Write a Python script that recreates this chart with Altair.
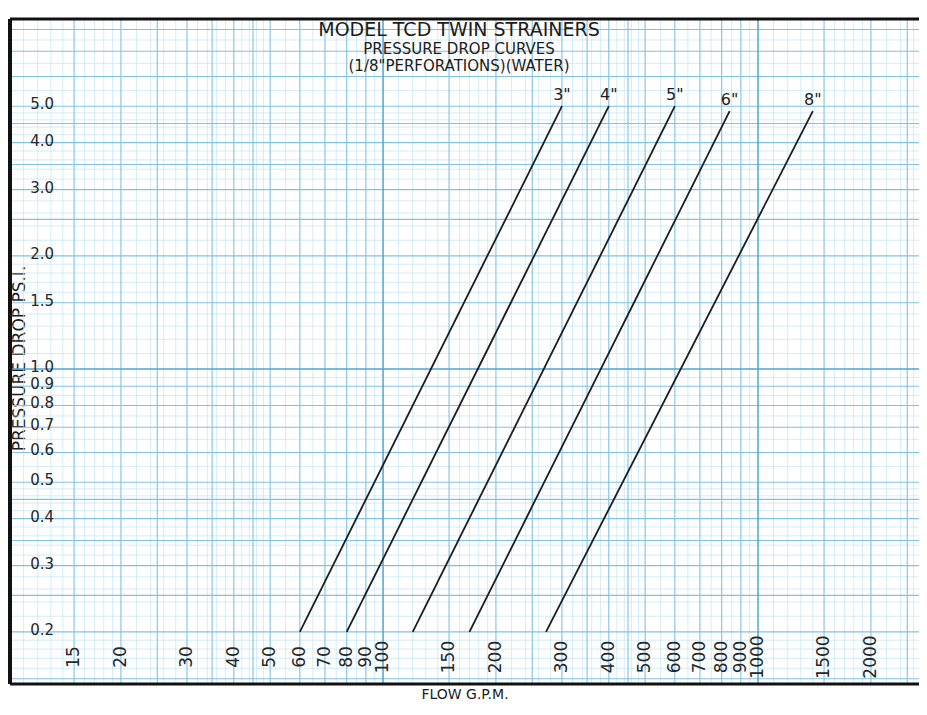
import altair as alt
import pandas as pd

# ---------------- data ----------------
sizes = ['3"', '4"', '5"', '6"', '8"']
flow_low = [60, 80, 120, 170, 272]        # GPM where each curve starts (at 0.2 psi)
flow_high = [300, 400, 600, 840, 1400]    # GPM where each curve ends
psi_low = [0.2, 0.2, 0.2, 0.2, 0.2]
psi_high = [5.0, 5.0, 5.0, 4.85, 4.85]

x_tick_values = [15, 20, 30, 40, 50, 60, 70, 80, 90, 100, 150, 200, 300, 400,
                 500, 600, 700, 800, 900, 1000, 1500, 2000]
y_tick_values = [5.0, 4.0, 3.0, 2.0, 1.5, 1.0, 0.9, 0.8, 0.7, 0.6, 0.5, 0.4, 0.3, 0.2]
y_tick_text = ["5.0", "4.0", "3.0", "2.0", "1.5", "1.0", "0.9", "0.8", "0.7",
               "0.6", "0.5", "0.4", "0.3", "0.2"]

title_lines = ["MODEL TCD TWIN STRAINERS", "PRESSURE DROP CURVES",
               '(1/8"PERFORATIONS)(WATER)']

X_MIN, X_MAX = 10.12, 2687
Y_MIN, Y_MAX = 0.1453, 8.53
W, H = 909, 665

# ---------------- graph-paper grid (style) ----------------
minor_fracs = [1.1, 1.2, 1.3, 1.4, 1.6, 1.7, 1.8, 1.9,
               2.2, 2.4, 2.6, 2.8, 3.2, 3.4, 3.6, 3.8, 4.2, 4.4, 4.6, 4.8,
               5.5, 6.5, 7.5, 8.5, 9.5]
medium_fracs = [1.5, 2, 2.5, 3, 3.5, 4, 4.5, 5, 6, 7, 8, 9]
major_fracs = [1]


def grid(fracs, lo, hi):
    out = []
    for e in range(-3, 5):
        for f in fracs:
            v = round(f * 10 ** e, 6)
            if lo < v < hi:
                out.append(v)
    return pd.DataFrame({"v": out})


FONT = "DejaVu Sans"
INK = "#1c1c1c"
LBL = "#262626"

xs = alt.Scale(type="log", domain=[X_MIN, X_MAX], nice=False)
ys = alt.Scale(type="log", domain=[Y_MIN, Y_MAX], nice=False)
x_axis = alt.Axis(title="FLOW G.P.M.", labels=False, ticks=False, domain=False,
                  grid=False, titlePadding=3, titleFontSize=14, titleFont=FONT,
                  titleFontWeight="normal", titleColor=INK)
y_axis = alt.Axis(title="PRESSURE DROP PS.I.", labels=False, ticks=False, domain=False,
                  grid=False, titleX=9, titleY=339, titleAngle=270, titleAlign="center",
                  titleBaseline="middle", titleFontSize=17, titleFont=FONT,
                  titleFontWeight="normal", titleColor=INK)


def X(field):
    return alt.X(field, type="quantitative", scale=xs, axis=x_axis)


def Y(field):
    return alt.Y(field, type="quantitative", scale=ys, axis=y_axis)


layers = []
for fracs, col, sw in [(minor_fracs, "#c2e4f3", 0.7),
                       (medium_fracs, "#7fc2e2", 1.1),
                       (major_fracs, "#4ea5d2", 1.5)]:
    layers.append(alt.Chart(grid(fracs, X_MIN, X_MAX))
                  .mark_rule(color=col, strokeWidth=sw).encode(x=X("v")))
    layers.append(alt.Chart(grid(fracs, Y_MIN, Y_MAX))
                  .mark_rule(color=col, strokeWidth=sw).encode(y=Y("v")))

# curves
rows = []
for s, f0, f1, p0, p1 in zip(sizes, flow_low, flow_high, psi_low, psi_high):
    rows.append({"size": s, "flow": f0, "psi": p0})
    rows.append({"size": s, "flow": f1, "psi": p1})
curves_df = pd.DataFrame(rows)
layers.append(alt.Chart(curves_df).mark_line(color=INK, strokeWidth=1.8)
              .encode(x=X("flow"), y=Y("psi"), detail="size:N"))

# size labels at top of each curve
lab_df = pd.DataFrame({"size": sizes, "flow": flow_high, "psi": psi_high})
layers.append(alt.Chart(lab_df).mark_text(font=FONT, fontSize=16, color=INK,
                                          align="center", baseline="middle", dy=-11)
              .encode(x=X("flow"), y=Y("psi"), text="size:N"))

# x tick labels (inside the frame, rotated)
xt_df = pd.DataFrame({"v": x_tick_values, "t": [str(v) for v in x_tick_values]})
layers.append(alt.Chart(xt_df).mark_text(font=FONT, fontSize=17, color=LBL,
                                         angle=270, align="center", baseline="middle")
              .encode(x=X("v"), y=alt.value(638), text="t:N"))

# y tick labels (inside the frame)
yt_df = pd.DataFrame({"v": y_tick_values, "t": y_tick_text})
layers.append(alt.Chart(yt_df).mark_text(font=FONT, fontSize=15, color=LBL,
                                         align="right", baseline="middle", dy=-2)
              .encode(y=Y("v"), x=alt.value(44), text="t:N"))

# titles inside the frame
for txt, yy, fs in zip(title_lines, [11, 30, 47], [19, 15, 15]):
    layers.append(alt.Chart(pd.DataFrame({"t": [txt]}))
                  .mark_text(font=FONT, fontSize=fs, color=INK, align="center",
                             baseline="middle")
                  .encode(x=alt.value(449), y=alt.value(yy), text="t:N"))

# frame (top, left, bottom)
layers.append(alt.Chart(pd.DataFrame({"a": [0]})).mark_rule(color="#111", strokeWidth=3)
              .encode(x=alt.value(0), x2=alt.value(W), y=alt.value(0)))
layers.append(alt.Chart(pd.DataFrame({"a": [0]})).mark_rule(color="#111", strokeWidth=3)
              .encode(x=alt.value(0), x2=alt.value(W), y=alt.value(H)))
layers.append(alt.Chart(pd.DataFrame({"a": [0]})).mark_rule(color="#111", strokeWidth=4)
              .encode(x=alt.value(0), y=alt.value(0), y2=alt.value(H)))

chart = alt.layer(*layers).properties(
    width=W, height=H,
    autosize=alt.AutoSizeParams(type="none"),
    padding={"left": 2, "top": 11, "right": 0, "bottom": 19},
    background="white",
).configure_view(stroke=None)

chart.save("out.html", embed_options={"renderer": "svg", "actions": False})
